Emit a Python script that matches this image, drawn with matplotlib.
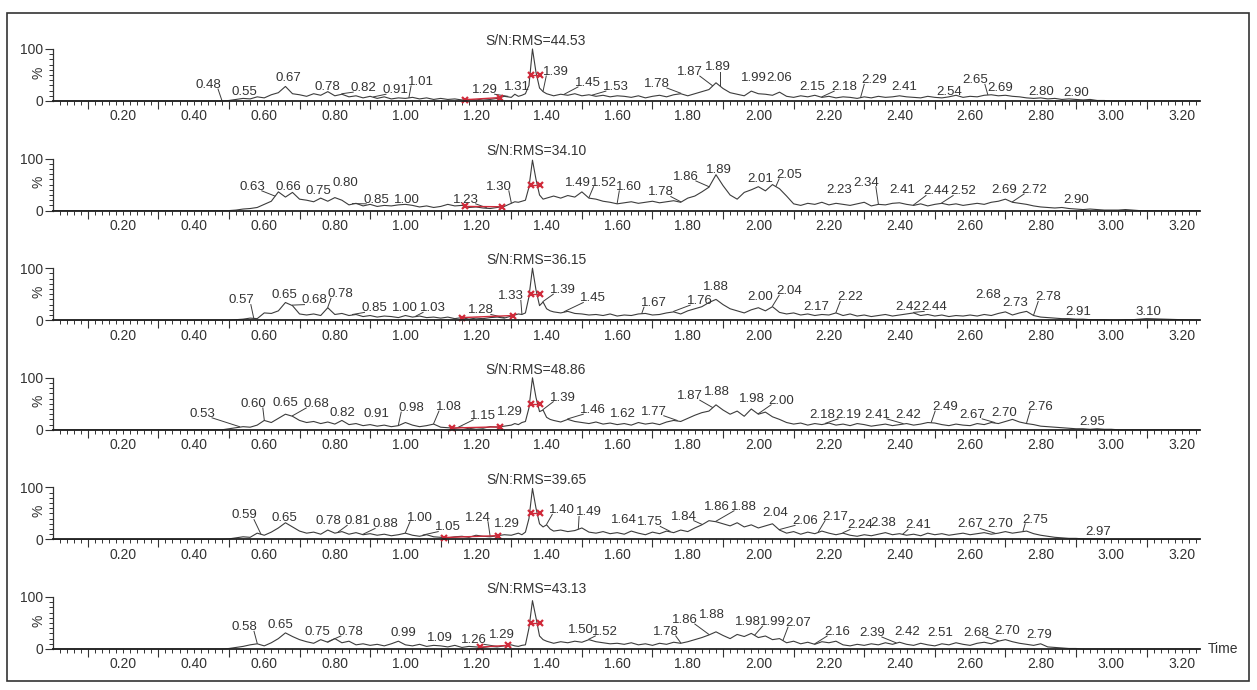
import numpy as np
import matplotlib.pyplot as plt
from matplotlib.patches import Rectangle
from matplotlib.ticker import FixedLocator, FuncFormatter, NullFormatter
from matplotlib.transforms import blended_transform_factory

plt.rcParams['font.family'] = ['Liberation Sans', 'DejaVu Sans']

# --- time grid (min) ---
t_a = np.round(np.arange(0.50, 1.301, 0.02), 2)   # 41 points
t_b = np.round(np.arange(1.31, 1.411, 0.01), 2)   # 11 points around main peak
t_c = np.round(np.arange(1.42, 3.101, 0.02), 2)   # 85 points
time = np.concatenate([[0.0, 0.48], t_a, t_b, t_c, [3.25]])

# --- intensities (%) ---
p1_a = [1, 3, 5, 4, 8, 6, 12, 16, 28, 14,
        12, 9, 14, 11, 18, 10, 13, 8, 10, 6,
        9, 5, 8, 4, 6, 5, 7, 4, 6, 3,
        5, 3, 4, 2, 3, 2, 4, 3, 5, 9,
        7]
p1_b = [13, 9, 11, 14, 30, 100, 55, 25, 18, 14, 12]
p1_c = [10, 13, 11, 14, 10, 12, 9, 11, 8, 10,
        9, 7, 10, 6, 9, 11, 8, 12, 14, 10,
        14, 18, 22, 35, 24, 16, 13, 10, 19, 14,
        13, 11, 17, 9, 7, 10, 8, 11, 7, 9,
        6, 8, 7, 5, 8, 6, 9, 7, 8, 10,
        8, 7, 6, 9, 7, 6, 8, 11, 7, 9,
        8, 11, 12, 10, 11, 9, 8, 6, 5, 6,
        4, 5, 3, 4, 3, 2, 3, 1, 1, 0,
        0, 0, 0, 0, 0]

p2_a = [0, 1, 3, 4, 6, 12, 18, 36, 26, 35,
        22, 20, 17, 24, 18, 25, 20, 11, 14, 9,
        12, 8, 10, 9, 11, 12, 10, 7, 9, 6,
        8, 12, 9, 10, 6, 7, 5, 4, 6, 8,
        14]
p2_b = [17, 16, 18, 20, 45, 97, 60, 30, 22, 24, 26]
p2_c = [28, 24, 29, 26, 36, 24, 22, 18, 16, 13,
        15, 17, 14, 16, 18, 15, 17, 19, 16, 24,
        28, 36, 45, 69, 48, 30, 22, 35, 40, 46,
        38, 50, 42, 28, 13, 10, 14, 12, 16, 11,
        14, 12, 10, 13, 16, 9, 12, 11, 14, 15,
        12, 10, 13, 9, 12, 14, 11, 13, 10, 12,
        14, 12, 16, 18, 22, 16, 14, 12, 9, 7,
        6, 5, 6, 4, 3, 2, 3, 2, 1, 1,
        1, 2, 1, 0, 0]

p3_a = [0, 1, 2, 4, 3, 14, 13, 18, 34, 28,
        12, 10, 12, 9, 24, 11, 13, 9, 11, 7,
        9, 6, 8, 7, 5, 9, 6, 8, 5, 6,
        4, 6, 3, 5, 2, 4, 3, 5, 6, 4,
        8]
p3_b = [10, 12, 11, 14, 45, 100, 58, 28, 35, 22, 18]
p3_c = [16, 14, 17, 13, 12, 10, 11, 9, 12, 8,
        10, 9, 12, 13, 10, 11, 14, 16, 12, 18,
        22, 26, 34, 40, 30, 22, 18, 14, 20, 24,
        18, 26, 15, 12, 14, 10, 12, 9, 11, 10,
        14, 9, 12, 8, 10, 7, 9, 11, 8, 10,
        12, 14, 9, 11, 8, 10, 7, 9, 8, 10,
        8, 11, 9, 13, 16, 10, 14, 17, 9, 6,
        5, 4, 3, 3, 2, 2, 1, 1, 1, 0,
        0, 1, 1, 2, 3]

p4_a = [2, 4, 6, 5, 9, 18, 14, 22, 30, 26,
        18, 14, 16, 12, 15, 11, 18, 10, 12, 8,
        10, 7, 9, 6, 8, 14, 9, 6, 8, 11,
        5, 4, 3, 5, 2, 4, 3, 6, 5, 7,
        9]
p4_b = [12, 10, 14, 16, 42, 100, 62, 35, 38, 24, 20]
p4_c = [18, 15, 20, 16, 14, 12, 15, 11, 13, 10,
        12, 9, 14, 11, 13, 10, 15, 18, 16, 22,
        28, 33, 36, 48, 38, 30, 36, 26, 40, 30,
        34, 25, 20, 14, 11, 13, 9, 12, 10, 13,
        9, 11, 8, 12, 10, 7, 9, 11, 8, 10,
        12, 9, 11, 14, 13, 10, 8, 11, 9, 8,
        12, 10, 14, 12, 16, 20, 15, 12, 10, 7,
        6, 5, 4, 3, 2, 2, 1, 2, 1, 1,
        0, 0, 0, 0, 0]

p5_a = [1, 3, 5, 4, 12, 8, 14, 22, 32, 24,
        16, 12, 14, 10, 18, 12, 15, 10, 13, 9,
        11, 8, 10, 7, 9, 12, 8, 6, 9, 5,
        4, 3, 5, 6, 4, 8, 6, 5, 7, 9,
        8]
p5_b = [10, 12, 9, 14, 40, 98, 60, 30, 24, 28, 20]
p5_c = [16, 18, 15, 17, 22, 14, 12, 15, 11, 13,
        10, 16, 12, 9, 14, 11, 16, 13, 18, 15,
        22, 28, 36, 34, 30, 26, 32, 24, 28, 22,
        26, 30, 18, 12, 15, 10, 14, 11, 16, 12,
        9, 12, 8, 6, 9, 7, 10, 13, 9, 11,
        8, 10, 7, 12, 9, 11, 8, 10, 12, 9,
        11, 13, 10, 12, 15, 12, 14, 16, 11, 8,
        6, 4, 3, 2, 2, 1, 1, 1, 0, 0,
        0, 0, 0, 0, 0]

p6_a = [1, 3, 5, 8, 10, 6, 12, 20, 31, 24,
        18, 14, 11, 18, 13, 20, 12, 15, 8, 10,
        7, 9, 6, 10, 15, 8, 6, 9, 5, 7,
        6, 4, 7, 3, 5, 4, 3, 5, 4, 6,
        8]
p6_b = [6, 5, 7, 8, 40, 93, 60, 25, 18, 15, 13]
p6_c = [11, 14, 12, 15, 13, 18, 14, 12, 10, 11,
        9, 12, 8, 10, 7, 11, 9, 13, 11, 14,
        18, 22, 27, 33, 26, 20, 28, 24, 30, 22,
        25, 18, 20, 12, 15, 10, 13, 9, 14, 12,
        15, 8, 6, 9, 7, 10, 8, 12, 9, 13,
        9, 7, 11, 8, 6, 10, 8, 12, 9, 7,
        11, 13, 10, 15, 18, 14, 11, 9, 7, 10,
        4, 3, 2, 1, 1, 0, 0, 0, 0, 0,
        0, 0, 0, 0, 0]

# flat zero before 0.48 min and after 3.10 min
traces = [[0, 0] + p1_a + p1_b + p1_c + [0], [0, 0] + p2_a + p2_b + p2_c + [0],
          [0, 0] + p3_a + p3_b + p3_c + [0], [0, 0] + p4_a + p4_b + p4_c + [0],
          [0, 0] + p5_a + p5_b + p5_c + [0], [0, 0] + p6_a + p6_b + p6_c + [0]]

sn_values = ["44.53", "34.10", "36.15", "48.86", "39.65", "43.13"]

# peak labels (retention times)
labels = [
    ["0.48", "0.55", "0.67", "0.78", "0.82", "0.91", "1.01", "1.29", "1.31", "1.39", "1.45", "1.53",
     "1.78", "1.87", "1.89", "1.99", "2.06", "2.15", "2.18", "2.29", "2.41", "2.54", "2.65", "2.69",
     "2.80", "2.90"],
    ["0.63", "0.66", "0.75", "0.80", "0.85", "1.00", "1.23", "1.30", "1.49", "1.52", "1.60", "1.78",
     "1.86", "1.89", "2.01", "2.05", "2.23", "2.34", "2.41", "2.44", "2.52", "2.69", "2.72", "2.90"],
    ["0.57", "0.65", "0.68", "0.78", "0.85", "1.00", "1.03", "1.28", "1.33", "1.39", "1.45", "1.67",
     "1.76", "1.88", "2.00", "2.04", "2.17", "2.22", "2.42", "2.44", "2.68", "2.73", "2.78", "2.91",
     "3.10"],
    ["0.53", "0.60", "0.65", "0.68", "0.82", "0.91", "0.98", "1.08", "1.15", "1.29", "1.39", "1.46",
     "1.62", "1.77", "1.87", "1.88", "1.98", "2.00", "2.18", "2.19", "2.41", "2.42", "2.49", "2.67",
     "2.70", "2.76", "2.95"],
    ["0.59", "0.65", "0.78", "0.81", "0.88", "1.00", "1.05", "1.24", "1.29", "1.40", "1.49", "1.64",
     "1.75", "1.84", "1.86", "1.88", "2.04", "2.06", "2.17", "2.24", "2.38", "2.41", "2.67", "2.70",
     "2.75", "2.97"],
    ["0.58", "0.65", "0.75", "0.78", "0.99", "1.09", "1.26", "1.29", "1.50", "1.52", "1.78", "1.86",
     "1.88", "1.98", "1.99", "2.07", "2.16", "2.39", "2.42", "2.51", "2.68", "2.70", "2.79"],
]

# layout: text centre of each label (time, %)
label_xy = [
    [(0.441, 31), (0.545, 17), (0.667, 44), (0.778, 27), (0.880, 25), (0.973, 21), (1.044, 37),
     (1.225, 21), (1.316, 27), (1.427, 56), (1.517, 35), (1.596, 27), (1.713, 33), (1.806, 56),
     (1.886, 65), (1.988, 44), (2.059, 44), (2.152, 27), (2.243, 27), (2.328, 40), (2.413, 27),
     (2.540, 17), (2.614, 40), (2.685, 25), (2.801, 17), (2.900, 15)],
    [(0.565, 46), (0.667, 46), (0.752, 37), (0.830, 54), (0.917, 21), (1.005, 21), (1.171, 21),
     (1.265, 46), (1.490, 54), (1.561, 54), (1.634, 46), (1.724, 35), (1.795, 65), (1.889, 79),
     (2.005, 60), (2.087, 69), (2.229, 40), (2.305, 54), (2.407, 40), (2.503, 37), (2.580, 37),
     (2.696, 40), (2.781, 40), (2.900, 21)],
    [(0.534, 38), (0.656, 48), (0.742, 38), (0.817, 50), (0.912, 23), (0.999, 23), (1.078, 23),
     (1.214, 19), (1.299, 46), (1.447, 58), (1.532, 42), (1.704, 33), (1.835, 37), (1.880, 63),
     (2.005, 44), (2.087, 56), (2.165, 25), (2.260, 44), (2.424, 25), (2.498, 25), (2.651, 48),
     (2.727, 33), (2.821, 44), (2.906, 15), (3.104, 15)],
    [(0.424, 31), (0.568, 50), (0.659, 52), (0.747, 50), (0.820, 33), (0.917, 31), (1.016, 42),
     (1.123, 44), (1.220, 27), (1.296, 35), (1.447, 62), (1.532, 38), (1.616, 31), (1.704, 35),
     (1.806, 65), (1.883, 73), (1.982, 60), (2.064, 56), (2.180, 29), (2.254, 29), (2.336, 29),
     (2.424, 29), (2.529, 44), (2.606, 29), (2.696, 33), (2.798, 44), (2.946, 15)],
    [(0.543, 46), (0.656, 42), (0.781, 35), (0.863, 35), (0.942, 29), (1.041, 42), (1.121, 23),
     (1.206, 42), (1.288, 29), (1.444, 56), (1.520, 52), (1.620, 38), (1.694, 33), (1.789, 44),
     (1.883, 63), (1.959, 63), (2.047, 50), (2.132, 35), (2.217, 44), (2.288, 27), (2.355, 31),
     (2.452, 27), (2.600, 29), (2.685, 29), (2.784, 38), (2.963, 15)],
    [(0.543, 42), (0.647, 46), (0.751, 33), (0.845, 33), (0.993, 31), (1.099, 21), (1.194, 17),
     (1.273, 27), (1.496, 37), (1.566, 33), (1.738, 33), (1.792, 56), (1.869, 65), (1.970, 52),
     (2.040, 52), (2.112, 50), (2.223, 33), (2.322, 31), (2.421, 33), (2.515, 31), (2.617, 31),
     (2.704, 35), (2.795, 27)],
]

# noise window (start, end) and half-height points of the main peak
noise_window = [(1.169, 1.268), (1.170, 1.274), (1.160, 1.305), (1.132, 1.268), (1.109, 1.262), (1.210, 1.290)]
half_width = [(1.357, 1.381)] * 6

# --- figure ---
W, H = 1257, 690
fig = plt.figure(figsize=(W / 100, H / 100), dpi=100)
fig.patches.append(Rectangle((7 / W, 9 / H), 1242 / W, 668 / H, transform=fig.transFigure,
                             fill=False, edgecolor='#333333', linewidth=1.2))

ink = '#333333'
baselines = [101, 210.6, 320.2, 429.8, 539.4, 649]
left, width = 52.5 / W, (1199.5 - 52.5) / W

for i in range(6):
    vals = np.array(traces[i], dtype=float)
    ax = fig.add_axes([left, (H - baselines[i]) / H, width, 52 / H])
    ax.set_xlim(0, 3.25)
    ax.set_ylim(0, 100)
    ax.patch.set_visible(False)

    ax.plot(time, vals, color='#3c3c3c', lw=0.8, clip_on=False)

    # x ticks
    ax.xaxis.set_major_locator(FixedLocator(np.arange(0.1, 3.25, 0.2)))
    ax.xaxis.set_major_formatter(NullFormatter())
    ax.xaxis.set_minor_locator(FixedLocator(np.arange(0.02, 3.25, 0.02)))
    ax.xaxis.set_minor_formatter(FuncFormatter(
        lambda v, p: f"{v:.2f}" if abs(v / 0.2 - round(v / 0.2)) < 1e-6 else ""))
    ax.tick_params(axis='x', which='major', length=6, width=0.8, color=ink)
    ax.tick_params(axis='x', which='minor', length=3, width=0.7, color=ink,
                   labelsize=10, labelcolor=ink, pad=3)
    # y ticks
    ax.set_yticks([0, 100], ["0", "100"])
    ax.yaxis.set_minor_locator(FixedLocator(np.arange(10, 100, 10)))
    ax.tick_params(axis='y', which='major', length=6, width=0.8, color=ink,
                   labelsize=10, labelcolor=ink, pad=1)
    ax.tick_params(axis='y', which='minor', length=3, width=0.7, color=ink)
    trans = blended_transform_factory(ax.transAxes, ax.transData)
    ax.text(-0.0125, 55, '%', transform=trans, rotation=90, ha='center', va='center',
            fontsize=10, color=ink)

    for s in ['top', 'right']:
        ax.spines[s].set_visible(False)
    ax.spines['left'].set_bounds(0, 100)
    ax.spines['left'].set_color(ink)
    ax.spines['left'].set_linewidth(0.9)
    ax.spines['bottom'].set_color('#222222')
    ax.spines['bottom'].set_linewidth(1.3)

    # peak labels with leader lines
    for lab, (tx, ty) in zip(labels[i], label_xy[i]):
        t = float(lab)
        py = np.interp(t, time, vals)
        ax.text(tx, ty, lab, ha='center', va='center', fontsize=9.5, color=ink, clip_on=False)
        dx = tx - t
        if abs(dx) > 0.03:
            ex = tx - np.sign(dx) * 0.028
            ax.plot([t, ex], [py + 1, ty - 8], color='#3c3c3c', lw=0.7, clip_on=False)
        elif ty - py > 35:
            ax.plot([t, t], [py + 1, ty - 9], color='#3c3c3c', lw=0.7, clip_on=False)

    ax.text(1.37, 115, "S/N:RMS=" + sn_values[i], ha='center', va='center', fontsize=10,
            color=ink, clip_on=False)

    # S/N markers
    a, b = noise_window[i]
    lev = np.interp([a, b], time, vals)
    ax.plot([a, b], [max(lev[0], 2), max(lev[1], 2)], color='#d02a3a', lw=1.0,
            marker='x', ms=4, mew=1.6, clip_on=False)
    h1, h2 = half_width[i]
    ax.plot([h1, h2], [50, 50], color='#d02a3a', lw=1.0, marker='x', ms=4, mew=1.6,
            clip_on=False)

fig.text(1208 / W, 1 - 649 / H, 'Time', ha='left', va='center', fontsize=10, color=ink)

fig.savefig('out.png', dpi=100, facecolor='white')
